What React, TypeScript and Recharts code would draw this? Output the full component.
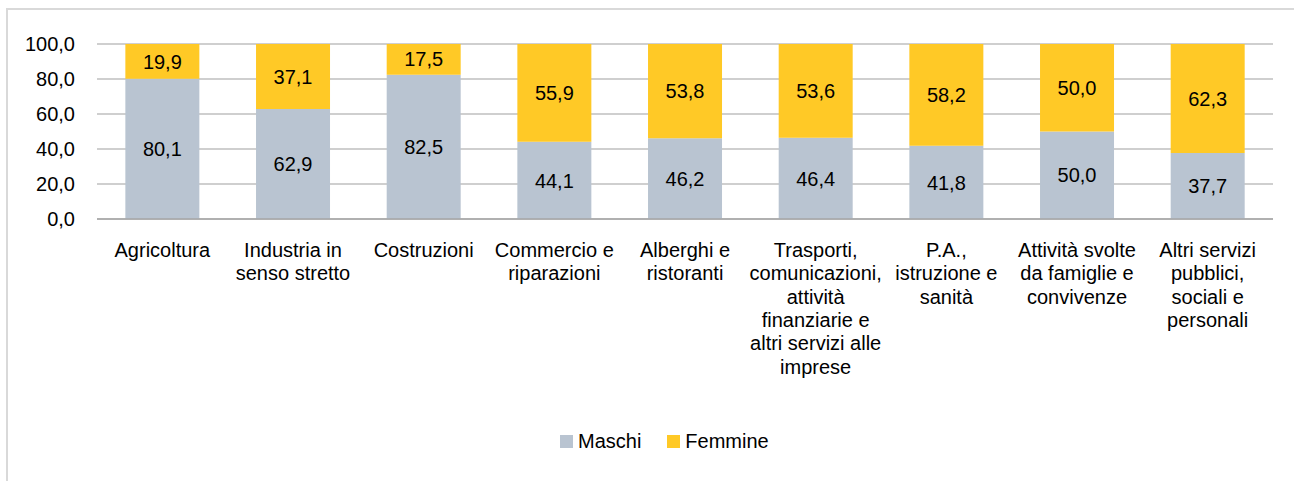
import { Bar, BarChart, CartesianGrid, LabelList, Legend, XAxis, YAxis } from "recharts";

const categories = [
  "Agricoltura",
  "Industria in\nsenso stretto",
  "Costruzioni",
  "Commercio e\nriparazioni",
  "Alberghi e\nristoranti",
  "Trasporti,\ncomunicazioni,\nattività\nfinanziarie e\naltri servizi alle\nimprese",
  "P.A.,\nistruzione e\nsanità",
  "Attività svolte\nda famiglie e\nconvivenze",
  "Altri servizi\npubblici,\nsociali e\npersonali",
];
const seriesNames = ["Maschi", "Femmine"];
const maschi = [80.1, 62.9, 82.5, 44.1, 46.2, 46.4, 41.8, 50.0, 37.7];
const femmine = [19.9, 37.1, 17.5, 55.9, 53.8, 53.6, 58.2, 50.0, 62.3];
const yTicks = [0, 20, 40, 60, 80, 100];

const FONT = "'Liberation Sans', Arial, sans-serif";
const FS = 20;
const GRAY = "#B9C4D1";
const YELLOW = "#FFC926";

const data = categories.map((c, i) => ({ cat: c, Maschi: maschi[i], Femmine: femmine[i] }));

const fmt = (v: number) => Number(v).toFixed(1).replace(".", ",");

function CatTick({ x, y, payload }: { x?: number; y?: number; payload?: { value: string } }) {
  const lines = String(payload?.value ?? "").split("\n");
  return (
    <text x={x} y={(y ?? 0) + 38} textAnchor="middle" fill="#000" fontSize={FS} fontFamily={FONT}>
      {lines.map((l, i) => (
        <tspan key={i} x={x} dy={i === 0 ? 0 : 23.3}>
          {l}
        </tspan>
      ))}
    </text>
  );
}

function LegendBox({ payload }: { payload?: { value: string; color: string }[] }) {
  const items = [...(payload ?? [])].sort(
    (a, b) => seriesNames.indexOf(a.value) - seriesNames.indexOf(b.value)
  );
  return (
    <div style={{ display: "flex", alignItems: "center", fontFamily: FONT, fontSize: FS, color: "#000" }}>
      {items.map((p) => (
        <div key={p.value} style={{ display: "flex", alignItems: "center", marginRight: 26 }}>
          <span style={{ display: "inline-block", width: 13, height: 13, background: p.color, marginRight: 5 }} />
          <span>{p.value}</span>
        </div>
      ))}
    </div>
  );
}

export default function App() {
  return (
    <div style={{ position: "absolute", left: 0, top: 0, width: 1294, height: 481, overflow: "hidden", background: "#fff" }}>
      <div
        style={{
          position: "absolute",
          left: 6,
          top: 8,
          width: 1400,
          height: 600,
          borderLeft: "2px solid #D9D9D9",
          borderTop: "2px solid #D9D9D9",
        }}
      />
      <BarChart
        width={1294}
        height={481}
        data={data}
        margin={{ top: 44, right: 21, bottom: 62, left: 0 }}
        barCategoryGap="21.7%"
        style={{ position: "absolute", left: 0, top: 0 }}
      >
        <CartesianGrid vertical={false} stroke="#BFBFBF" strokeWidth={1.5} />
        <XAxis
          dataKey="cat"
          interval={0}
          height={200}
          tickLine={false}
          tickSize={0}
          tickMargin={0}
          stroke="#A6A6A6"
          strokeWidth={1.5}
          tick={<CatTick />}
        />
        <YAxis
          width={97}
          domain={[0, 100]}
          ticks={yTicks}
          tickFormatter={fmt}
          axisLine={false}
          tickLine={false}
          tickSize={0}
          tickMargin={22}
          tick={{ fill: "#000", fontSize: FS, fontFamily: FONT }}
        />
        <Legend
          layout="horizontal"
          verticalAlign="middle"
          align="center"
          wrapperStyle={{ left: 560, top: 430, width: 400 }}
          content={<LegendBox />}
        />
        {seriesNames.map((name, idx) => (
          <Bar key={name} dataKey={name} stackId="a" fill={idx === 0 ? GRAY : YELLOW} isAnimationActive={false}>
            <LabelList dataKey={name} position="center" formatter={fmt} fill="#000" fontSize={FS} fontFamily={FONT} />
          </Bar>
        ))}
      </BarChart>
    </div>
  );
}
